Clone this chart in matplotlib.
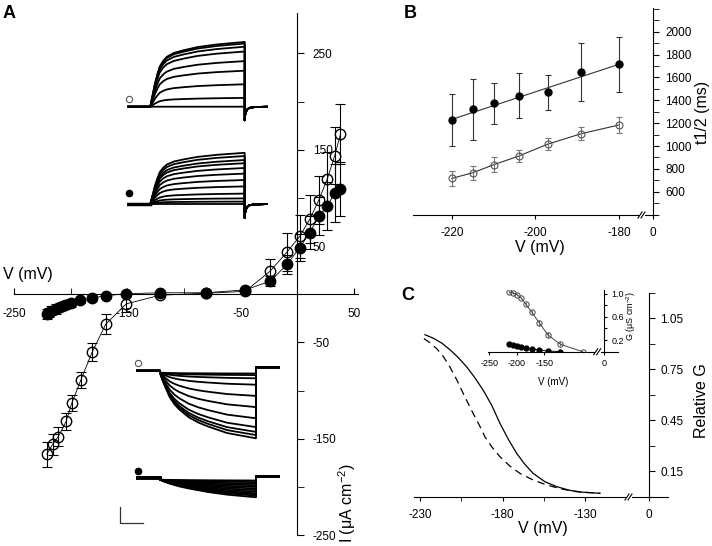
import numpy as np
import matplotlib.pyplot as plt
from matplotlib.ticker import MultipleLocator, FixedLocator

plt.rcParams['font.family'] = ['Liberation Sans', 'DejaVu Sans']
plt.rcParams['mathtext.default'] = 'regular'
plt.rcParams['axes.unicode_minus'] = False

# ---- panel A: I-V data (mV, uA cm-2)
a_open_v = [-221, -216, -211, -204, -199, -191, -181, -169, -151, -121, -81, -46,
            -24, -9, 2, 11, 19, 26.5, 33, 38]
a_open_i = [-166, -156, -148, -132, -113, -89, -60, -31, -10, -1, 1, 3,
            24, 44, 60, 78, 98, 120, 144, 166]
a_open_err = [13, 11, 10, 9, 8, 8, 9, 10, 8, 2, 2, 2,
              13, 20, 22, 25, 25, 28, 30, 31]
a_fill_v = [-221, -219, -217, -213, -209.5, -205, -200, -192, -181.5, -169, -151, -121, -81, -46,
            -24, -9, 2, 11, 19, 26.5, 33, 38]
a_fill_i = [-20.5, -19, -17, -15.5, -13.5, -11.5, -9, -6.5, -4, -1.5, 0.5, 1.5, 1.5, 4.5,
            13.5, 31, 48.5, 64, 81, 92, 105, 109]
a_fill_err = [5, 5, 5, 5, 4, 4, 4, 3, 3, 2, 2, 0, 0, 1,
              5, 10, 14, 17, 20, 25, 30, 28]

# current traces (s, uA)
t_out = [0, 0.025, 0.05, 0.075, 0.1, 0.15, 0.2, 0.275, 0.35, 0.5, 0.7, 1.0, 1.4, 2.0]
out_shape = [0, 0.09, 0.18, 0.27, 0.36, 0.5, 0.62, 0.71, 0.77, 0.83, 0.87, 0.92, 0.96, 1.0]
t_tail = [2.0, 2.01, 2.03, 2.06, 2.1, 2.2, 2.5]
tail_shape = [1.0, 0.6, 0.35, 0.18, 0.09, 0.03, 0]
out_open_amp = [8.1, 7.9, 7.5, 6.9, 5.7, 4.5, 2.8, 1.1, 0.0]
out_fill_amp = [6.4, 6.0, 5.5, 5.1, 4.5, 3.8, 3.0, 2.2, 1.3, 0.7, 0.3, 0.0]
t_in = [0, 0.05, 0.1, 0.2, 0.3, 0.4, 0.6, 0.8, 1.0, 1.4, 2.0]
in_open_shape = [0, 0.11, 0.2, 0.37, 0.48, 0.56, 0.68, 0.76, 0.82, 0.92, 1.0]
in_fill_shape = [0, 0.06, 0.12, 0.22, 0.3, 0.38, 0.5, 0.6, 0.7, 0.85, 1.0]
in_open_amp = [0.1, 0.3, 0.7, 1.5, 2.9, 4.3, 5.7, 6.8, 7.4, 7.8, 8.2]
in_fill_amp = [0.1, 0.3, 0.5, 0.7, 0.9, 1.1, 1.3, 1.5, 1.7, 1.85, 2.0, 2.2]

# ---- panel B: t1/2 (ms)
b_v = [-220, -215, -210, -204, -197, -189, -180]
b_fill = [1227, 1321, 1374, 1440, 1470, 1647, 1715]
b_fill_err = [228, 267, 179, 198, 153, 252, 243]
b_open = [717, 766, 836, 912, 1017, 1108, 1184]
b_open_err = [68, 61, 65, 54, 51, 54, 72]
b_fit_v = [-220, -180]
b_fit_t = [1233, 1715]

# ---- panel C: relative G fits
c_solid_v = [-227.0, -222.0, -216.9, -211.9, -206.8, -201.7, -196.7, -191.7, -186.6, -181.6,
             -176.6, -171.5, -166.5, -161.5, -154.4, -147.3, -139.3, -131.2, -121.1]
c_solid_g = [0.954, 0.934, 0.905, 0.866, 0.819, 0.764, 0.699, 0.626, 0.538, 0.431,
             0.338, 0.254, 0.189, 0.136, 0.087, 0.058, 0.036, 0.025, 0.019]
c_dash_v = [-227.6, -224.0, -219.9, -215.9, -211.9, -207.8, -203.8, -200.8, -197.8, -194.1,
            -190.7, -186.6, -181.6, -175.6, -169.5, -161.5, -153.4, -144.3, -135.2, -121.1]
c_dash_g = [0.931, 0.907, 0.872, 0.826, 0.764, 0.689, 0.607, 0.548, 0.489, 0.421,
            0.352, 0.293, 0.234, 0.179, 0.136, 0.097, 0.068, 0.044, 0.028, 0.019]
# inset: G (uS cm-2)
ci_v = [-213.4, -206, -198.8, -191.5, -183.5, -172.5, -159.1, -143.2, -120.7, -80]
ci_open = [1.03, 1.01, 0.98, 0.92, 0.82, 0.68, 0.5, 0.29, 0.13, 0.0]
ci_open_err = [0.02, 0.02, 0.02, 0.02, 0.03, 0.04, 0.05, 0.05, 0.04, 0]
ci_fill_v = ci_v[:9]
ci_fill = [0.133, 0.116, 0.103, 0.086, 0.069, 0.047, 0.029, 0.012, 0.0]

W, H = 712, 546
fig = plt.figure(figsize=(7.12, 5.46), dpi=100)


def px_axes(x0, y0, x1, y1):
    return fig.add_axes([x0 / W, 1 - y1 / H, (x1 - x0) / W, (y1 - y0) / H])


TICK = 8.5
LAB = 11.5

# ================= A
axA = px_axes(14, 13, 358, 535)
axA.set_xlim(-250, 53.5)
axA.set_ylim(-250, 292)
axA.patch.set_alpha(0)
for s in ['top', 'left']:
    axA.spines[s].set_visible(False)
axA.spines['bottom'].set_position(('data', 0))
axA.spines['right'].set_position(('data', 0))
axA.yaxis.tick_right()
axA.set_xticks([-250, -150, -50, 50])
axA.set_xticks([-200, -100, 0], minor=True)
axA.set_yticks([-250, -150, -50, 50, 150, 250])
axA.set_yticks([-200, -100, 0, 100, 200], minor=True)
axA.tick_params(axis='x', which='both', direction='in', length=4, labelsize=TICK, pad=10)
axA.tick_params(axis='y', which='both', direction='out', length=5, labelsize=TICK, pad=6)
axA.errorbar(a_open_v, a_open_i, yerr=a_open_err, fmt='o-', color='black', mfc='none',
             ms=7.5, lw=0.6, elinewidth=0.8, capsize=3.6, capthick=0.8, zorder=2)
axA.errorbar(a_fill_v, a_fill_i, yerr=a_fill_err, fmt='o-', color='black', mfc='black',
             ms=7.5, lw=0.6, elinewidth=0.8, capsize=3.6, capthick=0.8, zorder=3)
fig.text(3 / W, 1 - 275 / H, 'V (mV)', fontsize=LAB, ha='left', va='center')
fig.text(347 / W, 1 - 503 / H, 'I (μA cm$^{-2}$)', fontsize=LAB, rotation=90,
         ha='center', va='center')
fig.text(9 / W, 1 - 13 / H, 'A', fontsize=13, fontweight='bold', ha='center', va='center')


# trace insets
def trace_ax(x0, y0, x1, y1, ylim):
    ax = px_axes(x0, y0, x1, y1)
    ax.set_xlim(-0.5, 2.5)
    ax.set_ylim(*ylim)
    ax.axis('off')
    return ax


def out_traces(ax, amps, tail):
    for a in amps:
        t = [-0.5, 0] + t_out + t_tail
        y = [0, 0] + [a * s for s in out_shape] + [-tail * s for s in tail_shape]
        ax.plot(t, y, color='black', lw=1.3)


def in_traces(ax, amps, shape, start, post):
    for a in amps:
        t = [-0.5, 0] + t_in + [2.0, 2.5]
        y = [0, 0] + [start - a * s for s in shape] + [post, post]
        ax.plot(t, y, color='black', lw=1.3)


ax1 = trace_ax(126.7, 34.7, 268.3, 130.7, (-3, 9))
out_traces(ax1, out_open_amp, 1.7)
ax2 = trace_ax(126.7, 144, 268.3, 228, (-3, 7.5))
out_traces(ax2, out_fill_amp, 1.75)
ax2.plot([-0.5, 0], [0, 0], color='black', lw=2.5)
ax3 = trace_ax(136, 358.7, 280, 446.7, (-9.5, 1.5))
in_traces(ax3, in_open_amp, in_open_shape, -0.25, 0.42)
ax4 = trace_ax(136, 469.3, 280, 501.3, (-3, 1))
in_traces(ax4, in_fill_amp, in_fill_shape, -0.3, 0.1)
ax4.plot([-0.5, 0], [-0.1, -0.1], color='black', lw=2.8)

# ================= B
axB = px_axes(413, 7.7, 657, 214.6)
b_zero = -171.9
axB.set_xlim(-229.3, -170.9)
axB.set_ylim(400, 2210)
for s in ['top', 'left']:
    axB.spines[s].set_visible(False)
axB.spines['right'].set_position(('data', b_zero))
axB.yaxis.tick_right()
axB.xaxis.set_major_locator(FixedLocator([-220, -200, -180, b_zero]))
axB.set_xticklabels(['-220', '-200', '-180', '0'])
axB.set_yticks(range(600, 2001, 200))
axB.yaxis.set_minor_locator(MultipleLocator(100))
axB.tick_params(axis='x', direction='out', length=3, labelsize=TICK, pad=6)
axB.tick_params(axis='y', which='both', direction='out', length=4, labelsize=TICK, pad=5)
axB.plot(b_fit_v, b_fit_t, color='#333333', lw=0.8, zorder=2)
axB.plot(b_v, b_open, color='#333333', lw=0.8, zorder=2)
axB.errorbar(b_v, b_fill, yerr=b_fill_err, fmt='o', color='black', ecolor='#333333',
             ms=5, elinewidth=0.8, capsize=2.5, capthick=0.8, zorder=3)
axB.errorbar(b_v, b_open, yerr=b_open_err, fmt='o', color='#555555', mfc='none',
             ecolor='#777777', ms=5, mew=0.8, elinewidth=0.8, capsize=2.5, capthick=0.8, zorder=3)
fig.text(540 / W, 1 - 248 / H, 'V (mV)', fontsize=LAB, ha='center', va='center')
fig.text(703 / W, 1 - 112 / H, 't1/2 (ms)', fontsize=LAB, rotation=90, ha='center', va='center')
fig.text(410 / W, 1 - 13 / H, 'B', fontsize=13, fontweight='bold', ha='center', va='center')

# ================= C
axC = px_axes(414, 293, 668, 496.5)
c_zero = -91.5
axC.set_xlim(-233.6, -80)
axC.set_ylim(0, 1.2)
for s in ['top', 'left']:
    axC.spines[s].set_visible(False)
axC.spines['right'].set_position(('data', c_zero))
axC.yaxis.tick_right()
axC.xaxis.set_major_locator(FixedLocator([-230, -180, -130, c_zero]))
axC.set_xticklabels(['-230', '-180', '-130', '0'])
axC.xaxis.set_minor_locator(FixedLocator([-205, -155]))
axC.set_yticks([0.15, 0.45, 0.75, 1.05])
axC.set_yticks([0.3, 0.6, 0.9, 1.2], minor=True)
axC.set_yticklabels(['0.15', '0.45', '0.75', '1.05'])
axC.tick_params(axis='x', which='both', direction='out', length=3, labelsize=TICK, pad=6)
axC.tick_params(axis='y', which='both', direction='out', length=4, labelsize=TICK, pad=4)
axC.plot(c_solid_v, c_solid_g, color='black', lw=0.9)
axC.plot(c_dash_v, c_dash_g, color='black', lw=0.9, dashes=(6, 4))
fig.text(543 / W, 1 - 528 / H, 'V (mV)', fontsize=LAB, ha='center', va='center')
fig.text(702 / W, 1 - 401 / H, 'Relative G', fontsize=LAB, rotation=90, ha='center', va='center')
fig.text(408 / W, 1 - 296 / H, 'C', fontsize=13, fontweight='bold', ha='center', va='center')

# inset of C
axI = px_axes(488.3, 290, 618.3, 351.7)
ci_zero = -41.6
axI.set_xlim(-251.8, -14.9)
axI.set_ylim(0, 1.063)
axI.patch.set_alpha(0)
for s in ['top', 'left']:
    axI.spines[s].set_visible(False)
axI.spines['right'].set_position(('data', ci_zero))
axI.yaxis.tick_right()
axI.xaxis.set_major_locator(FixedLocator([-250, -200, -150, ci_zero]))
axI.set_xticklabels(['-250', '-200', '-150', '0'])
axI.set_yticks([0.2, 0.4, 0.6, 0.8, 1.0])
axI.set_yticklabels(['0.2', '', '0.6', '', '1.0'])
axI.tick_params(axis='x', direction='out', length=2, labelsize=6.5, pad=3)
axI.tick_params(axis='y', direction='out', length=2.5, labelsize=6.5, pad=3)
axI.plot(ci_fill_v, ci_fill, 'o-', color='black', ms=3.5, lw=0.7, zorder=3)
axI.errorbar(ci_v, ci_open, yerr=ci_open_err, fmt='o-', color='#444444', mfc='none',
             ecolor='#777777', ms=3.8, mew=0.7, lw=0.7, elinewidth=0.7, zorder=3)
fig.text(553 / W, 1 - 382 / H, 'V (mV)', fontsize=7, ha='center', va='center')
fig.text(631 / W, 1 - 316 / H, 'G (μS cm$^{-2}$)', fontsize=6.5, rotation=90,
         ha='center', va='center')

# ================= overlay: symbols, scale bar, axis breaks
ov = fig.add_axes([0, 0, 1, 1], zorder=10)
ov.set_xlim(0, W)
ov.set_ylim(H, 0)
ov.axis('off')
ov.plot([129.3], [98.7], 'o', ms=4.5, mfc='white', mec='#555555', mew=0.8)
ov.plot([129.3], [192.7], 'o', ms=4.5, color='black')
ov.plot([138.3], [363.3], 'o', ms=4.5, mfc='white', mec='#555555', mew=0.8)
ov.plot([137.7], [470.7], 'o', ms=4.5, color='black')
ov.plot([120, 120, 143.3], [506.7, 522.7, 522.7], color='#333333', lw=0.9)
for bx, by in [(642, 215), (629, 497), (597.7, 351.7)]:
    ov.fill_between([bx - 3, bx + 3], by - 2, by + 2, color='white', lw=0)
    ov.plot([bx - 4, bx], [by + 3, by - 3], color='black', lw=0.8)
    ov.plot([bx - 1, bx + 3], [by + 3, by - 3], color='black', lw=0.8)

fig.savefig('out.png', dpi=100)
